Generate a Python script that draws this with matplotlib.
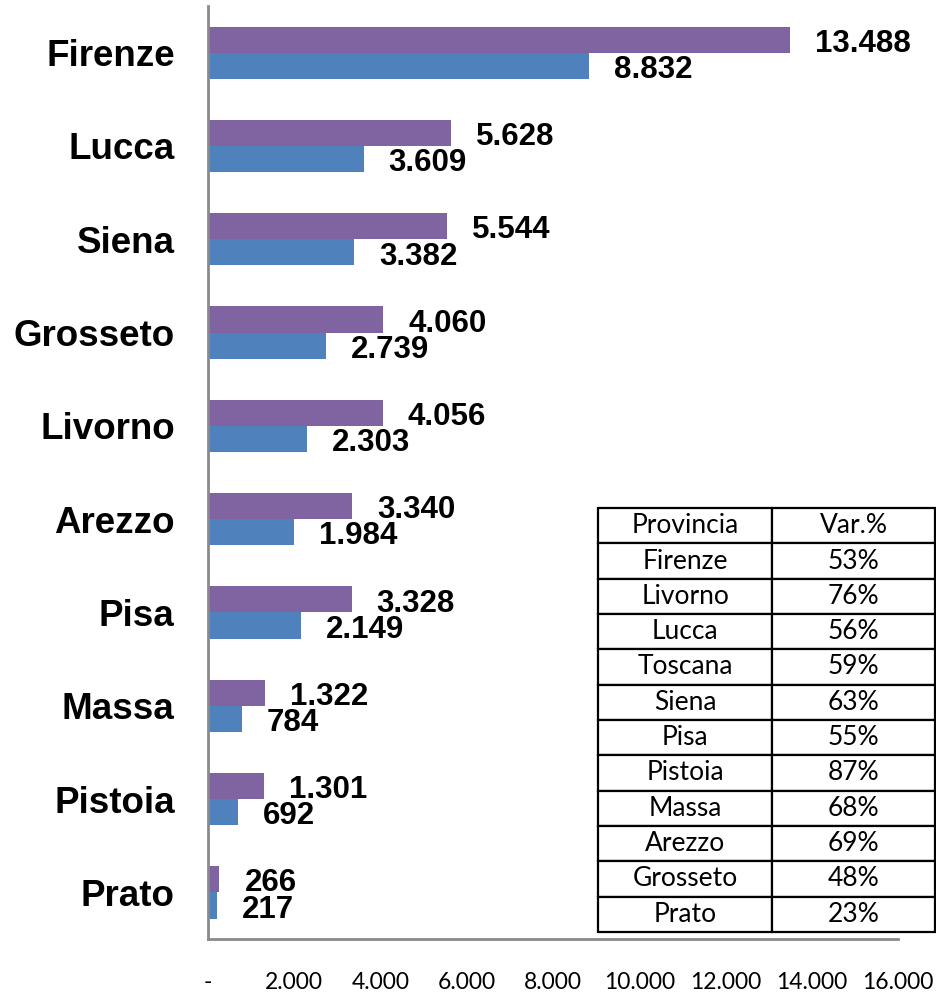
import matplotlib.pyplot as plt
import numpy as np

# provinces, top to bottom
provinces = ['Firenze', 'Lucca', 'Siena', 'Grosseto', 'Livorno',
             'Arezzo', 'Pisa', 'Massa', 'Pistoia', 'Prato']
# purple series (upper bar) and blue series (lower bar)
purple_vals = [13488, 5628, 5544, 4060, 4056, 3340, 3328, 1322, 1301, 266]
blue_vals = [8832, 3609, 3382, 2739, 2303, 1984, 2149, 784, 692, 217]

# table on the right
table_prov = ['Firenze', 'Livorno', 'Lucca', 'Toscana', 'Siena', 'Pisa',
              'Pistoia', 'Massa', 'Arezzo', 'Grosseto', 'Prato']
table_var = ['53%', '76%', '56%', '59%', '63%', '55%',
             '87%', '68%', '69%', '48%', '23%']

xticks = [0, 2000, 4000, 6000, 8000, 10000, 12000, 14000, 16000]
xtick_labels = ['-', '2.000', '4.000', '6.000', '8.000', '10.000',
                '12.000', '14.000', '16.000']


def it_fmt(v):
    return f'{v:,}'.replace(',', '.')


fig = plt.figure(figsize=(9.36, 9.92), dpi=100)
ax = fig.add_axes([0.2222, 0.0534, 0.7372, 0.9405])

y = np.arange(len(provinces))
h = 0.28
b1 = ax.barh(y - h / 2, purple_vals, height=h, color='#8064A2')
b2 = ax.barh(y + h / 2, blue_vals, height=h, color='#4F81BD')

for bars, vals in ((b1, purple_vals), (b2, blue_vals)):
    for r, v in zip(bars, vals):
        ax.annotate(it_fmt(v), (r.get_width(), r.get_y() + r.get_height() / 2),
                    xytext=(18, -3), textcoords='offset points',
                    ha='left', va='center', fontsize=22.5, fontweight='bold',
                    family='Liberation Sans')

ax.set_ylim(len(provinces) - 0.5, -0.5)
ax.set_xlim(0, 16000)
ax.set_yticks(y)
ax.set_yticklabels(provinces, fontsize=26.5, fontweight='bold', family='Liberation Sans')
ax.set_xticks(xticks)
ax.set_xticklabels(xtick_labels, fontsize=16.5, family='Lato')
ax.tick_params(axis='x', length=0, pad=24)
ax.tick_params(axis='y', length=0, pad=24)

for s in ('top', 'right'):
    ax.spines[s].set_visible(False)
for s in ('left', 'bottom'):
    ax.spines[s].set_color('#8a8a8a')
    ax.spines[s].set_linewidth(2)

# table
tax = fig.add_axes([0.639, 0.0605, 0.36, 0.4274])
tax.axis('off')
cells = [[p, v] for p, v in zip(table_prov, table_var)]
tab = tax.table(cellText=cells, colLabels=['Provincia', 'Var.%'],
                cellLoc='center', bbox=[0, 0, 1, 1], colWidths=[174, 163])
tab.auto_set_font_size(False)
for (r, c), cell in tab.get_celld().items():
    cell.set_linewidth(1.6)
    cell.set_edgecolor('black')
    cell.get_text().set_fontsize(19)
    cell.get_text().set_family('Lato')

plt.savefig('out.png', dpi=100)
